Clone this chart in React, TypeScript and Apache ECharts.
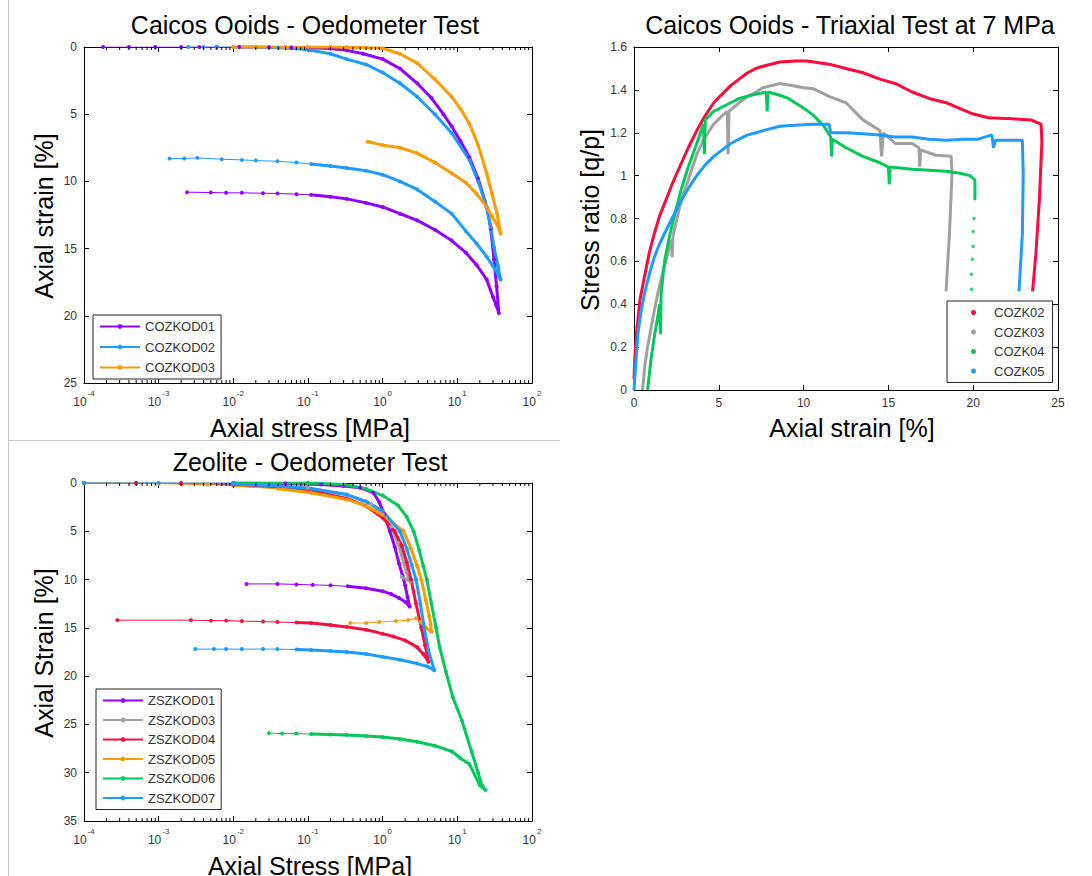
import React, { useEffect, useRef } from "react";
import * as echarts from "echarts";

const FONT = '"Liberation Sans", Arial, Helvetica, sans-serif';

// ---------- Caicos Ooids - Oedometer (stress MPa, strain %)
const caicosOedoNames = ["COZKOD01", "COZKOD02", "COZKOD03"];
const caicosOedoColors = ["#9000FF", "#1E9BFF", "#FF9A00"];
const cozkod01Load = [
  [1.8e-4, 0], [4e-4, 0], [9e-4, 0], [2e-3, 0], [3.5e-3, 0], [6e-3, 0], [0.012, 0], [0.03, 0.01], [0.06, 0.03],
  [0.1, 0.06], [0.2, 0.12], [0.33, 0.25], [0.55, 0.5], [1, 0.9], [1.7, 1.6], [2.9, 2.7], [4.5, 3.8], [6.5, 5.0],
  [8.4, 5.9], [11, 7], [14.5, 8.2], [19, 9.8], [24.7, 11.9], [28, 13.5], [31, 15.8], [33.5, 17.8], [36, 19.8],
];
const cozkod01Unload = [
  [33, 19.2], [30, 18.6], [24.7, 17.3], [18, 16.2], [13, 15.3], [8.4, 14.4], [5, 13.6], [2.9, 12.9], [1.7, 12.4],
  [1, 11.9], [0.6, 11.6], [0.33, 11.3], [0.2, 11.15], [0.11, 11.0], [0.07, 10.95], [0.039, 10.9], [0.025, 10.88],
  [0.013, 10.85], [0.008, 10.85], [0.005, 10.83], [0.0024, 10.8],
];
const cozkod02Load = [
  [2.5e-3, 0], [4e-3, 0], [6e-3, 0], [0.01, 0], [0.02, 0.01], [0.04, 0.05], [0.07, 0.12], [0.11, 0.25], [0.2, 0.5],
  [0.33, 0.9], [0.6, 1.3], [1, 1.9], [1.7, 2.7], [2.9, 3.7], [5, 5.0], [8.4, 6.4], [14.5, 8.4], [19, 10],
  [24.7, 11.9], [28, 13.4], [31, 14.9], [35, 16.3], [38, 17.3],
];
const cozkod02Unload = [
  [35, 16.9], [30, 16.3], [24.7, 15.6], [18, 14.6], [13, 13.7], [8.4, 12.4], [5, 11.5], [2.9, 10.6], [1.7, 10.0],
  [1, 9.5], [0.6, 9.2], [0.33, 9.0], [0.2, 8.85], [0.11, 8.7], [0.07, 8.6], [0.039, 8.5], [0.02, 8.45],
  [0.013, 8.4], [0.007, 8.35], [0.0033, 8.25], [0.0022, 8.3], [0.0014, 8.3],
];
const cozkod03Load = [
  [0.01, 0], [0.02, 0], [0.05, 0], [0.1, 0], [0.2, 0], [0.33, 0.02], [0.6, 0.05], [1, 0.1], [1.7, 0.5], [2.9, 1.2],
  [5, 2.4], [8.4, 3.7], [11, 4.6], [14.5, 5.7], [19, 7.3], [24.7, 9.4], [29, 10.9], [34, 12.4], [38, 13.9],
];
const cozkod03Unload = [
  [34, 13.2], [29, 12.6], [24.7, 11.9], [18, 10.9], [13, 10.1], [8.4, 9.4], [5, 8.6], [2.9, 7.9], [1.7, 7.5],
  [1, 7.3], [0.63, 7.05],
];

// ---------- Caicos Ooids - Triaxial (axial strain %, q/p)
const triNames = ["COZK02", "COZK03", "COZK04", "COZK05"];
const triColors = ["#FF0A3C", "#A0A0A0", "#00C85A", "#1E9BFF"];
const cozk02 = [
  [0, 0.05], [0.05, 0.15], [0.14, 0.26], [0.35, 0.42], [0.62, 0.53], [0.9, 0.64], [1.2, 0.73], [1.5, 0.81],
  [1.8, 0.87], [2.3, 0.97], [2.8, 1.06], [3.2, 1.13], [3.7, 1.21], [4.2, 1.28], [4.7, 1.34], [5.2, 1.38],
  [5.7, 1.42], [6.2, 1.45], [6.7, 1.48], [7.2, 1.5], [7.6, 1.51], [8.6, 1.53], [9.5, 1.535], [10.2, 1.535],
  [11, 1.525], [11.5, 1.52], [12.5, 1.5], [13.5, 1.48], [14.5, 1.45], [15.4, 1.43], [16.4, 1.39], [17.4, 1.36],
  [18.4, 1.34], [19.3, 1.31], [19.9, 1.29], [20.9, 1.27], [22.3, 1.265], [23.4, 1.26], [24.0, 1.24],
  [24.05, 1.16], [23.9, 0.885], [23.7, 0.64], [23.5, 0.46],
];
const cozk03 = [
  [0.5, 0], [0.65, 0.12], [0.8, 0.2], [1.1, 0.33], [1.4, 0.45], [1.7, 0.55], [2.0, 0.64], [2.2, 0.7], [2.25, 0.62],
  [2.3, 0.72], [2.8, 0.89], [3.2, 0.98], [3.7, 1.1], [4.2, 1.18], [4.7, 1.24], [5.2, 1.28], [5.5, 1.3], [5.55, 1.1],
  [5.6, 1.3], [6.2, 1.34], [6.7, 1.37], [7.2, 1.39], [7.6, 1.41], [8.6, 1.43], [9.3, 1.42], [10, 1.41],
  [10.6, 1.405], [11.5, 1.37], [12.5, 1.34], [13.5, 1.26], [14.5, 1.21], [14.6, 1.09], [14.7, 1.2], [15.4, 1.15],
  [16.4, 1.15], [16.8, 1.13], [16.85, 1.04], [16.9, 1.12], [17.8, 1.095], [18.7, 1.09], [18.75, 1.01],
  [18.6, 0.73], [18.4, 0.46],
];
const cozk04 = [
  [0.8, 0], [0.9, 0.07], [1.0, 0.14], [1.2, 0.25], [1.4, 0.34], [1.5, 0.4], [1.56, 0.26], [1.6, 0.45], [1.8, 0.6],
  [2.1, 0.72], [2.4, 0.82], [2.8, 0.94], [3.2, 1.04], [3.7, 1.15], [4.1, 1.24], [4.15, 1.1], [4.2, 1.26],
  [4.7, 1.3], [5.2, 1.32], [5.7, 1.34], [6.2, 1.36], [6.7, 1.37], [7.2, 1.38], [7.8, 1.39], [7.85, 1.3],
  [7.9, 1.39], [8.6, 1.375], [9.1, 1.36], [9.6, 1.335], [10.1, 1.31], [10.6, 1.28], [11.2, 1.23], [11.6, 1.18],
  [11.65, 1.09], [11.7, 1.17], [12.5, 1.13], [13.5, 1.09], [14.5, 1.06], [15.0, 1.04], [15.05, 0.96],
  [15.1, 1.04], [16.4, 1.03], [17.4, 1.025], [18.4, 1.02], [19.3, 1.01], [19.8, 1.0], [20.1, 0.98], [20.1, 0.885],
];
const cozk04Tail = [[20.05, 0.8], [20.0, 0.74], [20.0, 0.67], [19.95, 0.61], [19.9, 0.54], [19.9, 0.47]];
const cozk05 = [
  [0, 0], [0.1, 0.12], [0.23, 0.26], [0.4, 0.36], [0.62, 0.45], [0.9, 0.54], [1.2, 0.62], [1.5, 0.68], [1.8, 0.73],
  [2.3, 0.81], [2.8, 0.885], [3.2, 0.94], [3.7, 1.0], [4.2, 1.05], [4.7, 1.09], [5.2, 1.12], [5.7, 1.15],
  [6.2, 1.17], [6.7, 1.19], [7.2, 1.2], [7.6, 1.21], [8.6, 1.23], [9.5, 1.235], [10.5, 1.24], [11.5, 1.24],
  [11.6, 1.2], [12.5, 1.2], [13.5, 1.195], [14.5, 1.19], [15.4, 1.18], [16.4, 1.18], [17.4, 1.17], [18.4, 1.165],
  [19.4, 1.17], [20.3, 1.17], [21.1, 1.19], [21.2, 1.13], [21.3, 1.165], [22.3, 1.165], [22.9, 1.165],
  [22.95, 1.01], [22.9, 0.73], [22.7, 0.46],
];

// ---------- Zeolite - Oedometer (stress MPa, strain %)
const zeoNames = ["ZSZKOD01", "ZSZKOD03", "ZSZKOD04", "ZSZKOD05", "ZSZKOD06", "ZSZKOD07"];
const zeoColors = ["#9000FF", "#A0A0A0", "#F5103F", "#FF9A00", "#00C85A", "#1E9BFF"];
const zs01Load = [
  [1e-4, 0], [5e-4, 0], [2e-3, 0], [0.01, 0], [0.05, 0.05], [0.15, 0.15], [0.3, 0.3], [0.5, 0.5], [0.75, 1.0],
  [0.9, 2.0], [1.05, 3.2], [1.25, 5.0], [1.45, 6.6], [1.65, 8.3], [1.85, 9.6], [2.0, 10.6], [2.15, 11.8], [2.3, 12.8],
];
const zs01Unload = [
  [2.0, 12.3], [1.65, 11.9], [1.3, 11.5], [1.0, 11.2], [0.6, 10.9], [0.34, 10.7], [0.2, 10.6], [0.116, 10.55],
  [0.07, 10.5], [0.039, 10.45], [0.015, 10.45],
];
const zs03Load = [
  [1e-4, 0], [1e-3, 0.02], [0.01, 0.1], [0.1, 0.5], [0.33, 1.2], [0.7, 2.2], [1.0, 3.2], [1.3, 4.5], [1.6, 6.2],
  [1.9, 8.2], [2.1, 9.3], [2.35, 10.2],
];
const zs03Unload = [[2.1, 10.0], [1.8, 9.7]];
const zs04Load = [
  [1e-4, 0], [5e-4, 0.02], [2e-3, 0.08], [0.01, 0.2], [0.04, 0.45], [0.11, 0.8], [0.33, 1.6], [0.6, 2.4], [1.0, 3.6],
  [1.45, 5.0], [1.8, 6.5], [2.1, 8.2], [2.4, 10], [2.8, 12.5], [3.3, 15], [3.7, 16.8], [4.1, 18.5],
];
const zs04Unload = [
  [3.5, 17.7], [2.9, 17.0], [2.0, 16.3], [1.4, 15.9], [0.99, 15.6], [0.6, 15.2], [0.33, 14.9], [0.2, 14.7],
  [0.11, 14.5], [0.07, 14.45], [0.039, 14.4], [0.025, 14.35], [0.013, 14.3], [0.008, 14.25], [0.005, 14.25],
  [0.0027, 14.2], [2.8e-4, 14.2],
];
const zs05Load = [
  [1e-4, 0], [1e-3, 0.05], [4.5e-3, 0.15], [0.04, 0.6], [0.11, 1.0], [0.33, 1.7], [0.6, 2.4], [1.0, 3.3],
  [1.9, 5.0], [2.4, 6.8], [2.9, 8.6], [3.3, 10], [3.8, 12.2], [4.2, 13.8], [4.4, 14.6], [4.5, 15.4],
];
const zs05Unload = [[3.8, 15.0], [3.2, 14.4], [2.8, 14.0], [2.2, 14.2], [1.5, 14.3], [0.9, 14.4], [0.6, 14.5], [0.37, 14.5]];
const zs06Load = [
  [1e-4, 0], [0.01, 0], [0.1, 0], [0.3, 0.15], [0.6, 0.6], [1.0, 1.3], [1.6, 2.3], [2.1, 3.5], [2.6, 5.0], [3.1, 7.0],
  [3.5, 8.6], [3.9, 10], [4.5, 12.5], [5.2, 15], [5.8, 17], [7, 19.5], [8.7, 22.2], [11.5, 24.6], [15.5, 27.8],
  [19, 30], [21.4, 31.3], [23.9, 31.8],
];
const zs06Unload = [
  [20, 31.3], [14.5, 29.1], [11, 28.5], [8.5, 27.8], [5, 27.2], [2.9, 26.8], [1.7, 26.5], [0.99, 26.3], [0.6, 26.2],
  [0.33, 26.1], [0.2, 26.05], [0.11, 26.0], [0.07, 25.95], [0.045, 25.95], [0.03, 25.9],
];
const zs07Load = [
  [1e-4, 0], [1e-3, 0], [0.01, 0.1], [0.04, 0.3], [0.11, 0.6], [0.33, 1.2], [0.6, 1.9], [1.0, 2.9], [1.7, 5.0],
  [2.1, 6.8], [2.45, 8.5], [2.8, 10], [3.2, 12.5], [3.6, 15], [4.1, 17.3], [4.9, 19.4],
];
const zs07Unload = [
  [4.0, 19.0], [2.9, 18.7], [1.7, 18.3], [0.99, 18.0], [0.6, 17.7], [0.33, 17.5], [0.2, 17.4], [0.11, 17.3],
  [0.07, 17.25], [0.039, 17.2], [0.025, 17.2], [0.013, 17.2], [0.008, 17.2], [0.0055, 17.2], [0.0031, 17.2],
];

// axis ticks
const strainTicksCaicos = { min: 0, max: 25, interval: 5 };
const strainTicksZeo = { min: 0, max: 35, interval: 5 };
const stressLogRange = { min: 1e-4, max: 100 };
const triX = { min: 0, max: 25, interval: 5 };
const triY = { min: 0, max: 1.6, interval: 0.2 };

const minorLogTicks: number[] = [];
for (let e = -4; e < 2; e++) for (let k = 2; k <= 9; k++) minorLogTicks.push(k * Math.pow(10, e));

const grids = [
  { left: 84, top: 47, width: 448, height: 336 },
  { left: 634, top: 47, width: 424, height: 343 },
  { left: 84, top: 483, width: 448, height: 338 },
];

const labelStyle = { fontSize: 12, fontFamily: FONT, color: "#333" };
const tickStyle = { show: true, inside: true, length: 5, lineStyle: { color: "#000", width: 1 } };
const lineStyle = { show: true, onZero: false, lineStyle: { color: "#000", width: 1 } };

function logXAxis(gridIndex: number, position: string, labels: boolean) {
  return {
    type: "log", logBase: 10, gridIndex, position, ...stressLogRange,
    axisLine: lineStyle, axisTick: tickStyle, splitLine: { show: false },
    axisLabel: labels
      ? {
          show: true, margin: 6,
          formatter: (v: number) => "{b|10}{e|" + Math.round(Math.log10(v)) + "}",
          rich: {
            b: { fontSize: 12, fontFamily: FONT, color: "#333", lineHeight: 19, verticalAlign: "bottom" },
            e: { fontSize: 8, fontFamily: FONT, color: "#333", verticalAlign: "top", padding: [0, 0, 8, 1] },
          },
        }
      : { show: false },
  };
}
function valAxis(gridIndex: number, position: string, range: any, labels: boolean, inverse: boolean, fmt?: any) {
  return {
    type: "value", gridIndex, position, inverse, ...range,
    axisLine: lineStyle, axisTick: tickStyle, splitLine: { show: false },
    axisLabel: labels ? { show: true, margin: 7, ...labelStyle, formatter: fmt } : { show: false },
  };
}

function oedoSeries(name: string, color: string, load: number[][], unload: number[][], loadMin: number, unloadMin: number, xi: number, yi: number) {
  return [
    {
      name, type: "line", xAxisIndex: xi, yAxisIndex: yi, data: load.concat(unload),
      symbol: "circle", symbolSize: 4, showSymbol: true, color,
      lineStyle: { width: 1, color }, itemStyle: { color }, z: 3,
    },
    {
      name, type: "line", xAxisIndex: xi, yAxisIndex: yi,
      data: load.filter((p) => p[0] >= loadMin).concat(unload.filter((p) => p[0] >= unloadMin)),
      symbol: "none", showSymbol: false, color,
      lineStyle: { width: 3, color }, z: 3,
    },
  ];
}

function minorTickSeries(xi: number, yi: number) {
  return {
    type: "custom", xAxisIndex: xi, yAxisIndex: yi, silent: true, clip: false, z: 10,
    data: minorLogTicks.map((v) => [v, 0]),
    renderItem: (params: any, api: any) => {
      const cs = params.coordSys;
      const x = api.coord([api.value(0), 0])[0];
      const top = cs.y;
      const bot = cs.y + cs.height;
      return {
        type: "group",
        children: [
          { type: "line", shape: { x1: x, y1: bot, x2: x, y2: bot - 3 }, style: { stroke: "#000", lineWidth: 1 } },
          { type: "line", shape: { x1: x, y1: top, x2: x, y2: top + 3 }, style: { stroke: "#000", lineWidth: 1 } },
        ],
      };
    },
  };
}

function text(t: string, x: number, y: number, size: number, rot = 0) {
  return {
    type: "text", x, y, rotation: rot, z: 20,
    style: { text: t, font: `${size}px ${FONT}`, fill: "#000", align: "center", verticalAlign: "middle" },
  };
}

export default function App() {
  const ref = useRef<HTMLDivElement>(null);
  useEffect(() => {
    if (!ref.current) return;
    const chart = echarts.init(ref.current, undefined, { renderer: "svg" });

    const series: any[] = [];
    const caicosLoads = [cozkod01Load, cozkod02Load, cozkod03Load];
    const caicosUnloads = [cozkod01Unload, cozkod02Unload, cozkod03Unload];
    const caicosLoadMin = [0.01, 0.01, 0.01];
    const caicosUnloadMin = [0.08, 0.1, 0.5];
    caicosOedoNames.forEach((n, i) =>
      series.push(...oedoSeries(n, caicosOedoColors[i], caicosLoads[i], caicosUnloads[i], caicosLoadMin[i], caicosUnloadMin[i], 0, 0))
    );
    series.push(minorTickSeries(0, 0));

    const triData = [cozk02, cozk03, cozk04, cozk05];
    triNames.forEach((n, i) =>
      series.push({
        name: n, type: "line", xAxisIndex: 2, yAxisIndex: 2, data: triData[i], showSymbol: false, symbol: "circle",
        color: triColors[i], lineStyle: { width: 3, color: triColors[i] }, itemStyle: { color: triColors[i] },
      })
    );
    series.push({
      name: "COZK04", type: "scatter", xAxisIndex: 2, yAxisIndex: 2, data: cozk04Tail, symbolSize: 3.5,
      itemStyle: { color: triColors[2] },
    });

    const zLoads = [zs01Load, zs03Load, zs04Load, zs05Load, zs06Load, zs07Load];
    const zUnloads = [zs01Unload, zs03Unload, zs04Unload, zs05Unload, zs06Unload, zs07Unload];
    const zLoadMin = [0.01, 0.01, 0.005, 0.005, 0.01, 0.01];
    const zUnloadMin = [0.3, 0.5, 0.04, 3, 0.1, 0.05];
    zeoNames.forEach((n, i) =>
      series.push(...oedoSeries(n, zeoColors[i], zLoads[i], zUnloads[i], zLoadMin[i], zUnloadMin[i], 4, 4))
    );
    series.push(minorTickSeries(4, 4));

    const legendCommon = {
      orient: "vertical", borderColor: "#222", borderWidth: 1, backgroundColor: "#fff",
      textStyle: { fontSize: 13, fontFamily: FONT, color: "#333" }, selectedMode: false, z: 30,
    };

    chart.setOption({
      animation: false,
      backgroundColor: "#fff",
      grid: grids.map((g) => ({ ...g, containLabel: false })),
      xAxis: [
        logXAxis(0, "bottom", true),
        logXAxis(0, "top", false),
        valAxis(1, "bottom", triX, true, false),
        valAxis(1, "top", triX, false, false),
        logXAxis(2, "bottom", true),
        logXAxis(2, "top", false),
      ],
      yAxis: [
        valAxis(0, "left", strainTicksCaicos, true, true),
        valAxis(0, "right", strainTicksCaicos, false, true),
        valAxis(1, "left", triY, true, false, (v: number) => (v === 0 || v === 1 ? String(v) : v.toFixed(1))),
        valAxis(1, "right", triY, false, false),
        valAxis(2, "left", strainTicksZeo, true, true),
        valAxis(2, "right", strainTicksZeo, false, true),
      ],
      legend: [
        { ...legendCommon, data: caicosOedoNames, left: 93, top: 315, padding: [5, 6, 5, 6], itemGap: 7.5, itemWidth: 40, itemHeight: 6 },
        {
          ...legendCommon, data: triNames, left: 947, top: 301, padding: [5, 8, 5, 24], itemGap: 6.5, itemWidth: 5, itemHeight: 5,
          icon: "circle", textStyle: { ...legendCommon.textStyle, padding: [0, 0, 0, 13] },
        },
        { ...legendCommon, data: zeoNames, left: 96, top: 689, padding: [5, 6, 5, 6], itemGap: 6.5, itemWidth: 40, itemHeight: 6 },
      ],
      graphic: [
        { type: "line", shape: { x1: 8.5, y1: 0, x2: 8.5, y2: 876 }, style: { stroke: "#c8c8c8", lineWidth: 1 }, z: 1 },
        { type: "line", shape: { x1: 8, y1: 440.5, x2: 560, y2: 440.5 }, style: { stroke: "#c8c8c8", lineWidth: 1 }, z: 1 },
        text("Caicos Ooids - Oedometer Test", 305, 25, 25),
        text("Axial stress [MPa]", 310, 428, 25),
        text("Axial strain [%]", 44, 216, 25, Math.PI / 2),
        text("Caicos Ooids - Triaxial Test at 7 MPa", 850, 25, 25),
        text("Axial strain [%]", 852, 428, 25),
        text("Stress ratio [q/p]", 590, 220, 25, Math.PI / 2),
        text("Zeolite - Oedometer Test", 310, 462, 25),
        text("Axial Stress [MPa]", 310, 866, 25),
        text("Axial Strain [%]", 44, 653, 25, Math.PI / 2),
      ],
      series,
    });
    return () => chart.dispose();
  }, []);
  return <div ref={ref} style={{ position: "absolute", left: 0, top: 0, width: 1092, height: 876, background: "#fff" }} />;
}
